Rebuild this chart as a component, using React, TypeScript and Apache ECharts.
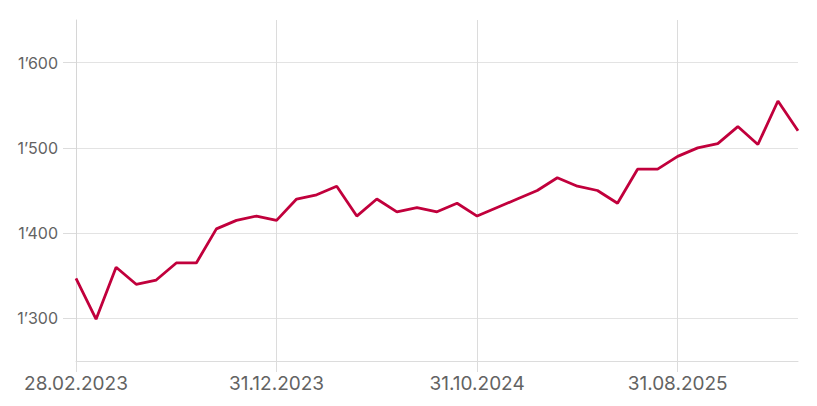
import React, { useEffect, useRef } from "react";
import * as echarts from "echarts";

const categories: string[] = [
  "28.02.2023", "31.03.2023", "30.04.2023", "31.05.2023", "30.06.2023", "31.07.2023",
  "31.08.2023", "30.09.2023", "31.10.2023", "30.11.2023", "31.12.2023", "31.01.2024",
  "29.02.2024", "31.03.2024", "30.04.2024", "31.05.2024", "30.06.2024", "31.07.2024",
  "31.08.2024", "30.09.2024", "31.10.2024", "30.11.2024", "31.12.2024", "31.01.2025",
  "28.02.2025", "31.03.2025", "30.04.2025", "31.05.2025", "30.06.2025", "31.07.2025",
  "31.08.2025", "30.09.2025", "31.10.2025", "30.11.2025", "31.12.2025", "31.01.2026",
  "28.02.2026",
];

const values: number[] = [
  1347, 1299, 1360, 1340, 1345, 1365, 1365, 1405, 1415, 1420, 1415, 1440,
  1445, 1455, 1420, 1440, 1425, 1430, 1425, 1435, 1420, 1430, 1440, 1450,
  1465, 1455, 1450, 1435, 1475, 1475, 1490, 1500, 1505, 1525, 1504, 1555,
  1520,
];

const yTicks: number[] = [1300, 1400, 1500, 1600];
const yMin = 1250;
const yMax = 1650;

const fmt = (v: number) => {
  const s = Math.round(v).toString();
  return s.replace(/\B(?=(\d{3})+(?!\d))/g, "\u2019");
};

export default function App() {
  const ref = useRef<HTMLDivElement>(null);
  useEffect(() => {
    if (!ref.current) return;
    const chart = echarts.init(ref.current, null, { renderer: "svg" });
    const font = "Inter, 'Noto Sans', sans-serif";
    chart.setOption({
      animation: false,
      grid: { left: 76, right: 19, top: 20, bottom: 45, containLabel: false },
      xAxis: {
        type: "category",
        data: categories,
        boundaryGap: false,
        axisLine: { show: true, lineStyle: { color: "#dcdcdc", width: 1 } },
        axisTick: { show: true, interval: 9, length: 11, lineStyle: { color: "#dcdcdc" } },
        axisLabel: {
          interval: 9,
          margin: 13,
          color: "#636363",
          fontSize: 19,
          fontFamily: font,
        },
        splitLine: { show: true, interval: 9, lineStyle: { color: "#dcdcdc", width: 1 } },
      },
      yAxis: {
        type: "value",
        min: yMin,
        max: yMax,
        axisLine: { show: true, lineStyle: { color: "#d6d6d6" } },
        axisTick: { show: true, length: 13, customValues: yTicks, lineStyle: { color: "#dcdcdc" } },
        axisLabel: {
          margin: 18,
          color: "#636363",
          fontSize: 16,
          fontFamily: font,
          customValues: yTicks,
          formatter: (v: number) => fmt(v),
        },
        splitLine: { show: true, lineStyle: { color: "#e3e3e3", width: 1 } },
      },
      series: [
        {
          type: "line",
          data: values,
          symbol: "none",
          lineStyle: { color: "#c1003c", width: 2.8 },
        },
      ],
    });
    return () => chart.dispose();
  }, []);
  return (
    <div
      ref={ref}
      style={{ position: "absolute", left: 0, top: 0, width: 817, height: 406 }}
    />
  );
}
